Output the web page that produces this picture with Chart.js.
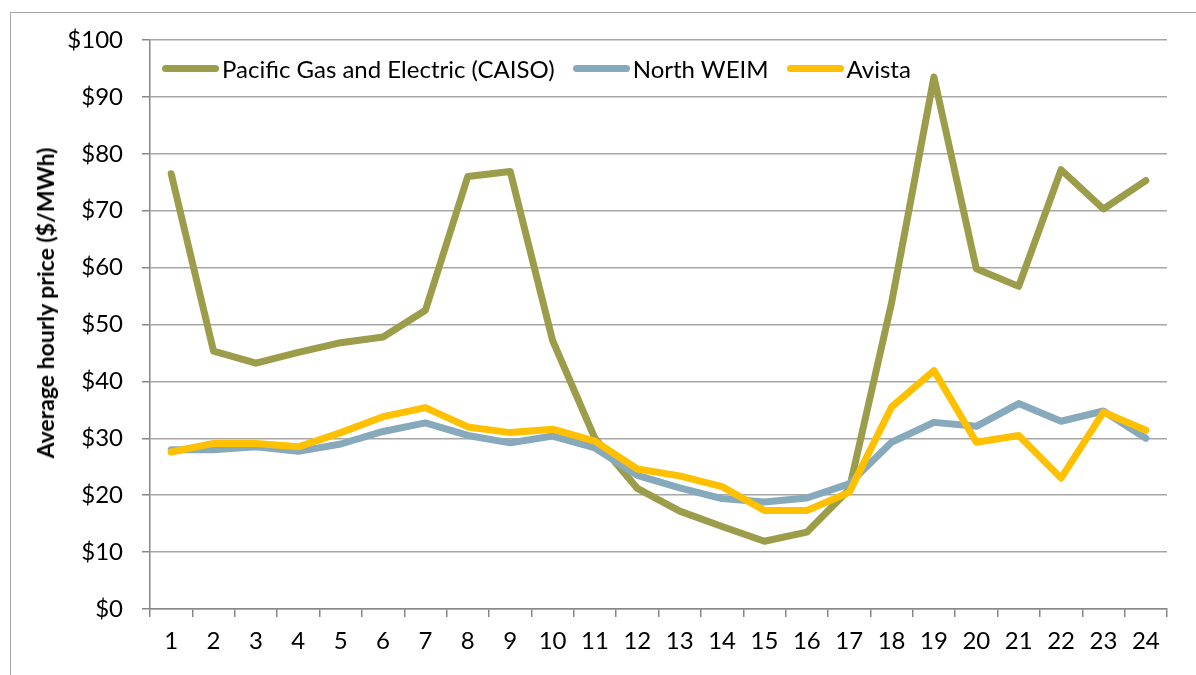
<!DOCTYPE html>
<html>
<head>
<meta charset="utf-8">
<script src="https://cdn.jsdelivr.net/npm/chart.js@4.4.1/dist/chart.umd.min.js"></script>
<style>
  html, body { margin: 0; padding: 0; background: #fff; width: 1196px; height: 675px; overflow: hidden; }
  #wrap { position: relative; width: 1196px; height: 675px; }
  #frame { position: absolute; left: 10px; top: 12px; width: 1300px; height: 800px; border: 1.5px solid #A6A6A6; box-sizing: border-box; }
  canvas { position: absolute; left: 0; top: 0; }
  #legend { position: absolute; left: 162px; top: 52px; height: 32px; display: flex; align-items: center; font-family: Lato, "Open Sans", sans-serif; font-size: 24px; color: #000; white-space: nowrap; }
  .item { display: flex; align-items: center; margin-right: 18px; }
  .swatch { width: 57px; height: 7px; border-radius: 4px; margin-right: 3px; }
  #ytitle { position: absolute; left: 45px; top: 303px; transform: translate(-50%, -50%) rotate(-90deg); font-family: Lato, "Open Sans", sans-serif; font-size: 23px; font-weight: bold; color: #000; white-space: nowrap; }
</style>
</head>
<body>
<div id="wrap">
  <div id="frame"></div>
  <canvas id="c" width="1196" height="675"></canvas>
  <div id="legend"></div>
  <div id="ytitle"></div>
</div>
<script>
const hours = ["1","2","3","4","5","6","7","8","9","10","11","12","13","14","15","16","17","18","19","20","21","22","23","24"];
const seriesNames = ["Pacific Gas and Electric (CAISO)", "North WEIM", "Avista"];
const pge   = [76.5, 45.3, 43.2, 45.1, 46.8, 47.8, 52.5, 76.0, 76.9, 47.2, 30.0, 21.2, 17.2, 14.5, 11.9, 13.5, 21.0, 53.8, 93.5, 59.8, 56.7, 77.2, 70.3, 75.3];
const weim  = [28.0, 28.0, 28.5, 27.7, 29.0, 31.2, 32.7, 30.5, 29.2, 30.4, 28.3, 23.5, 21.3, 19.4, 18.8, 19.5, 22.0, 29.3, 32.8, 32.1, 36.1, 33.0, 34.8, 30.0];
const avista= [27.6, 29.1, 29.1, 28.5, 31.0, 33.8, 35.4, 32.0, 31.0, 31.6, 29.5, 24.6, 23.4, 21.5, 17.3, 17.3, 20.5, 35.5, 41.9, 29.3, 30.5, 23.0, 34.6, 31.4];
const yTicks = [0, 10, 20, 30, 40, 50, 60, 70, 80, 90, 100];
const yTitle = "Average hourly price ($/MWh)";
const colors = ["#9C9D4B", "#87A9BC", "#FFC000"];

const seriesData = [pge, weim, avista];
const datasets = seriesData.map((d, i) => ({
  label: seriesNames[i],
  data: d,
  borderColor: colors[i],
  backgroundColor: colors[i],
  borderWidth: 7,
  pointRadius: 0,
  pointHoverRadius: 0,
  tension: 0,
  borderJoinStyle: 'round',
  borderCapStyle: 'round',
  order: 3 - i
}));

// HTML legend and axis title built from the named values above
const leg = document.getElementById('legend');
seriesNames.forEach((n, i) => {
  const it = document.createElement('div'); it.className = 'item';
  const sw = document.createElement('div'); sw.className = 'swatch'; sw.style.background = colors[i];
  const tx = document.createElement('span'); tx.textContent = n;
  it.appendChild(sw); it.appendChild(tx); leg.appendChild(it);
});
document.getElementById('ytitle').textContent = yTitle;

const FONT = "Lato, 'Open Sans', sans-serif";
const gridGray = '#A6A6A6';
const axisGray = '#878787';

new Chart(document.getElementById('c'), {
  type: 'line',
  data: { labels: hours, datasets },
  options: {
    responsive: false,
    animation: false,
    devicePixelRatio: 1,
    layout: { padding: { left: 0, right: 29, top: 40, bottom: 0 } },
    plugins: { legend: { display: false }, tooltip: { enabled: false } },
    scales: {
      x: {
        offset: true,
        grid: {
          offset: true,
          drawOnChartArea: true,
          color: ctx => (ctx.index === hours.length ? axisGray : 'rgba(0,0,0,0)'),
          lineWidth: 1.5,
          tickColor: axisGray,
          tickLength: 8
        },
        border: { display: true, color: axisGray, width: 1.5 },
        ticks: { color: '#000', font: { family: FONT, size: 24 }, padding: 10, maxRotation: 0, autoSkip: false },
        afterFit: s => { s.height = 66; }
      },
      y: {
        min: 0, max: 100,
        afterBuildTicks: s => { s.ticks = yTicks.map(v => ({ value: v })); },
        grid: { color: gridGray, lineWidth: 1.5, tickColor: axisGray, tickLength: 8 },
        border: { display: true, color: axisGray, width: 1.5 },
        ticks: { color: '#000', font: { family: FONT, size: 24 }, padding: 19, callback: v => '$' + v },
        afterFit: s => { s.width = 150; }
      }
    }
  }
});
</script>
</body>
</html>
